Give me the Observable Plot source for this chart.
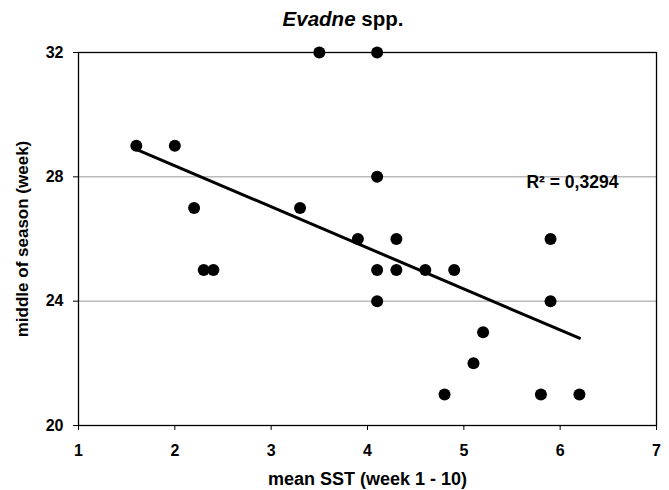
<!DOCTYPE html>
<html>
<head>
<meta charset="utf-8">
<script src="https://cdn.jsdelivr.net/npm/d3@7"></script>
<script src="https://cdn.jsdelivr.net/npm/@observablehq/plot@0.6"></script>
<style>
  html, body { margin: 0; padding: 0; background: #fff; }
  #title {
    height: 36px; line-height: 34px; padding-top: 2px; box-sizing: border-box;
    padding-left: 17px; padding-right: 0; text-align: center; white-space: nowrap;
    font-family: "Liberation Sans", Arial, sans-serif; font-weight: bold; font-size: 20.5px; color: #000;
  }
</style>
</head>
<body>
<div id="title"><i>Evadne</i> spp.</div>
<div id="chart"></div>
<script>
// mean SST (week 1 - 10)
const sst = [1.6, 2.0, 2.2, 2.3, 2.4, 3.3, 3.5, 3.9, 4.1, 4.1, 4.1, 4.1, 4.3, 4.3, 4.6, 4.9, 4.8, 5.1, 5.2, 5.8, 5.9, 5.9, 6.2];
// middle of season (week)
const midSeason = [29, 29, 27, 25, 25, 27, 32, 26, 32, 28, 25, 24, 26, 25, 25, 25, 21, 22, 23, 21, 26, 24, 21];
const xTicks = [1, 2, 3, 4, 5, 6, 7];
const yTicks = [20, 24, 28, 32];
const gridValues = [24, 28];
const rSquaredLabel = [{x: 5.65, y: 27.82, text: "R\u00b2 = 0,3294"}];

const data = sst.map((x, i) => ({x, y: midSeason[i]}));

const font = '"Liberation Sans", Arial, sans-serif';
const plot = Plot.plot({
  width: 669,
  height: 454,
  marginTop: 16,
  marginBottom: 65,
  marginLeft: 78,
  marginRight: 13,
  style: {fontFamily: font, fontSize: "16px", fontWeight: "bold", color: "#000", background: "#fff"},
  x: {domain: [1, 7]},
  y: {domain: [20, 32]},
  marks: [
    Plot.ruleY(gridValues, {stroke: "#999", strokeWidth: 1}),
    Plot.frame({stroke: "#000", strokeWidth: 1.3}),
    Plot.axisX({ticks: xTicks, tickSize: 5, tickPadding: 14, tickFormat: d3.format("d"), fontSize: 16, label: null}),
    Plot.axisX({ticks: [], label: "mean SST (week 1 - 10)", labelAnchor: "center", labelArrow: "none", labelOffset: 59, fontSize: 18, tickSize: 0}),
    Plot.axisY({ticks: yTicks, tickSize: 5, tickPadding: 10, tickFormat: d3.format("d"), fontSize: 16, label: null}),
    Plot.axisY({ticks: [], label: "middle of season (week)", labelAnchor: "center", labelArrow: "none", labelOffset: 63, fontSize: 17, tickSize: 0}),
    Plot.linearRegressionY(data, {x: "x", y: "y", ci: 0, stroke: "#000", strokeWidth: 3}),
    Plot.dot(data, {x: "x", y: "y", r: 6, fill: "#000", stroke: "none"}),
    Plot.text(rSquaredLabel, {x: "x", y: "y", text: "text", textAnchor: "start", fontSize: 17.5, fontWeight: "bold", fill: "#000"})
  ]
});
document.getElementById("chart").appendChild(plot);
</script>
</body>
</html>
